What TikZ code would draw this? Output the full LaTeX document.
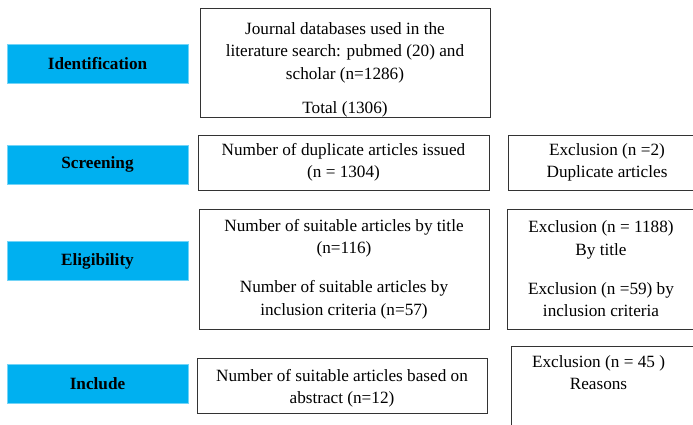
\documentclass[tikz,border=0pt]{standalone}
\usepackage{fontspec}
\setmainfont{Liberation Serif}
\usetikzlibrary{positioning}
\definecolor{stageblue}{RGB}{0,176,240}

\begin{document}
\begin{tikzpicture}[x=1pt, y=-1pt,
  stage/.style={fill=stageblue, draw=stageblue!55, font=\fontsize{17.2}{20}\selectfont\bfseries, minimum width=181pt, minimum height=39pt, inner sep=0pt},
  box/.style={draw=black!80, line width=0.9pt, font=\fontsize{17.2}{22.5}\selectfont, align=center, inner sep=0pt},
  txt/.style={font=\fontsize{17.2}{22.5}\selectfont, align=center, inner sep=0pt}
]
\clip (0,0) rectangle (693,424);

% Stage labels
\foreach \y/\t/\n in {64/Identification/sid, 164.5/Screening/sscr, 261/Eligibility/self, 383.5/Include/sinc}
  \node[stage] (\n) at (97.5,\y) {\t};

% Main column
\node[box, minimum width=290pt, minimum height=108pt] (db) at (345,63)
  {\rule{0pt}{26pt}Journal databases used in the\\literature search: pubmed (20) and\\scholar (n=1286)\\[12pt]Total (1306)};
\node[box, minimum width=291pt, minimum height=55pt] (dup) at (343.5,162.5)
  {Number of duplicate articles issued\\(n = 1304)};
\node[box, minimum width=290pt, minimum height=120pt] (elig) at (344,269)
  {Number of suitable articles by title\\(n=116)\\[16.5pt]Number of suitable articles by\\inclusion criteria (n=57)};
\node[box, minimum width=290pt, minimum height=55pt] (incl) at (342,385.5)
  {\rule{0pt}{18pt}Number of suitable articles based on\\abstract (n=12)};

% Exclusions
\node[box, minimum width=198pt, minimum height=55pt] (exdup) at (607,162.5)
  {Exclusion (n =2)\\Duplicate articles};
\node[box, minimum width=188pt, minimum height=120pt] (exelig) at (601,269)
  {Exclusion (n = 1188)\\By title\\[16.5pt]Exclusion (n =59) by\\inclusion criteria};
\node[box, minimum width=209pt, minimum height=94pt] (exabs) at (615.5,393) {};
\node[txt] (exabstxt) at (598.5,372.5) {Exclusion (n = 45 )\\Reasons};
\end{tikzpicture}
\end{document}
